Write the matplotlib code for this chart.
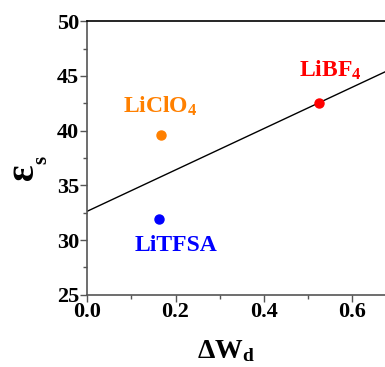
import numpy as np
import matplotlib
matplotlib.use("Agg")
import matplotlib.pyplot as plt

plt.rcParams['font.family'] = ['Liberation Serif', 'DejaVu Serif']
plt.rcParams['font.weight'] = 'bold'
plt.rcParams['mathtext.fontset'] = 'custom'
plt.rcParams['mathtext.rm'] = 'Liberation Serif:bold'
plt.rcParams['mathtext.bf'] = 'Liberation Serif:bold'
plt.rcParams['mathtext.it'] = 'Liberation Serif:bold'

# data
salts = ['LiClO$_4$', 'LiTFSA', 'LiBF$_4$']
dW = [0.166, 0.162, 0.525]
eps = [39.6, 31.9, 42.5]
colors = ['#ff8000', '#0000ff', '#ff0000']
label_off = [(0.0, 2.0), (0.039, -2.9), (0.027, 2.4)]
xticks = [0.0, 0.2, 0.4, 0.6]
yticks = [25, 30, 35, 40, 45, 50]

fit = np.polyfit(dW, eps, 1)

fig = plt.figure(figsize=(3.85, 3.67), dpi=100)
ax = fig.add_axes([0.2268, 0.197, 0.8018, 0.745])

xs = np.array([0.0, 0.7])
ax.plot(xs, np.polyval(fit, xs), color='black', lw=1.0, zorder=1)

for name, x, y, c, off in zip(salts, dW, eps, colors, label_off):
    ax.plot(x, y, 'o', color=c, ms=6.5, zorder=3)
    ax.text(x + off[0], y + off[1], name, color=c, fontsize=17,
            fontweight='bold', ha='center', va='baseline')

ax.set_xlim(0, 0.7)
ax.set_ylim(25, 50)
ax.set_xticks(xticks)
ax.set_xticks([0.1, 0.3, 0.5], minor=True)
ax.set_yticks(yticks)
ax.set_yticks(np.arange(27.5, 50, 5), minor=True)
ax.set_xticklabels([f'{v:.1f}' for v in xticks], fontweight='bold', fontsize=16)
ax.set_yticklabels([str(v) for v in yticks], fontweight='bold', fontsize=16)

ax.tick_params(which='major', direction='out', length=5, width=1,
               color='#555555')
ax.tick_params(axis='x', which='major', pad=0)
ax.tick_params(axis='y', which='major', pad=1)
ax.tick_params(which='minor', direction='out', length=3, width=1,
               color='#555555')

ax.spines['right'].set_visible(False)
ax.spines['left'].set_color('#555555')
ax.spines['bottom'].set_color('#555555')
ax.spines['top'].set_color('black')
for s in ax.spines.values():
    s.set_linewidth(1.2)

fig.text(0.062, 0.531, 'ε', fontsize=28, rotation=90, ha='center', va='center',
         fontweight='bold')
fig.text(0.107, 0.564, 's', fontsize=15, rotation=90, ha='center', va='center',
         fontweight='bold')
fig.text(0.587, 0.025, r'$\Delta$W$_\mathregular{d}$', fontsize=20,
         ha='center', va='baseline', fontweight='bold')

fig.savefig('out.png', dpi=100)
